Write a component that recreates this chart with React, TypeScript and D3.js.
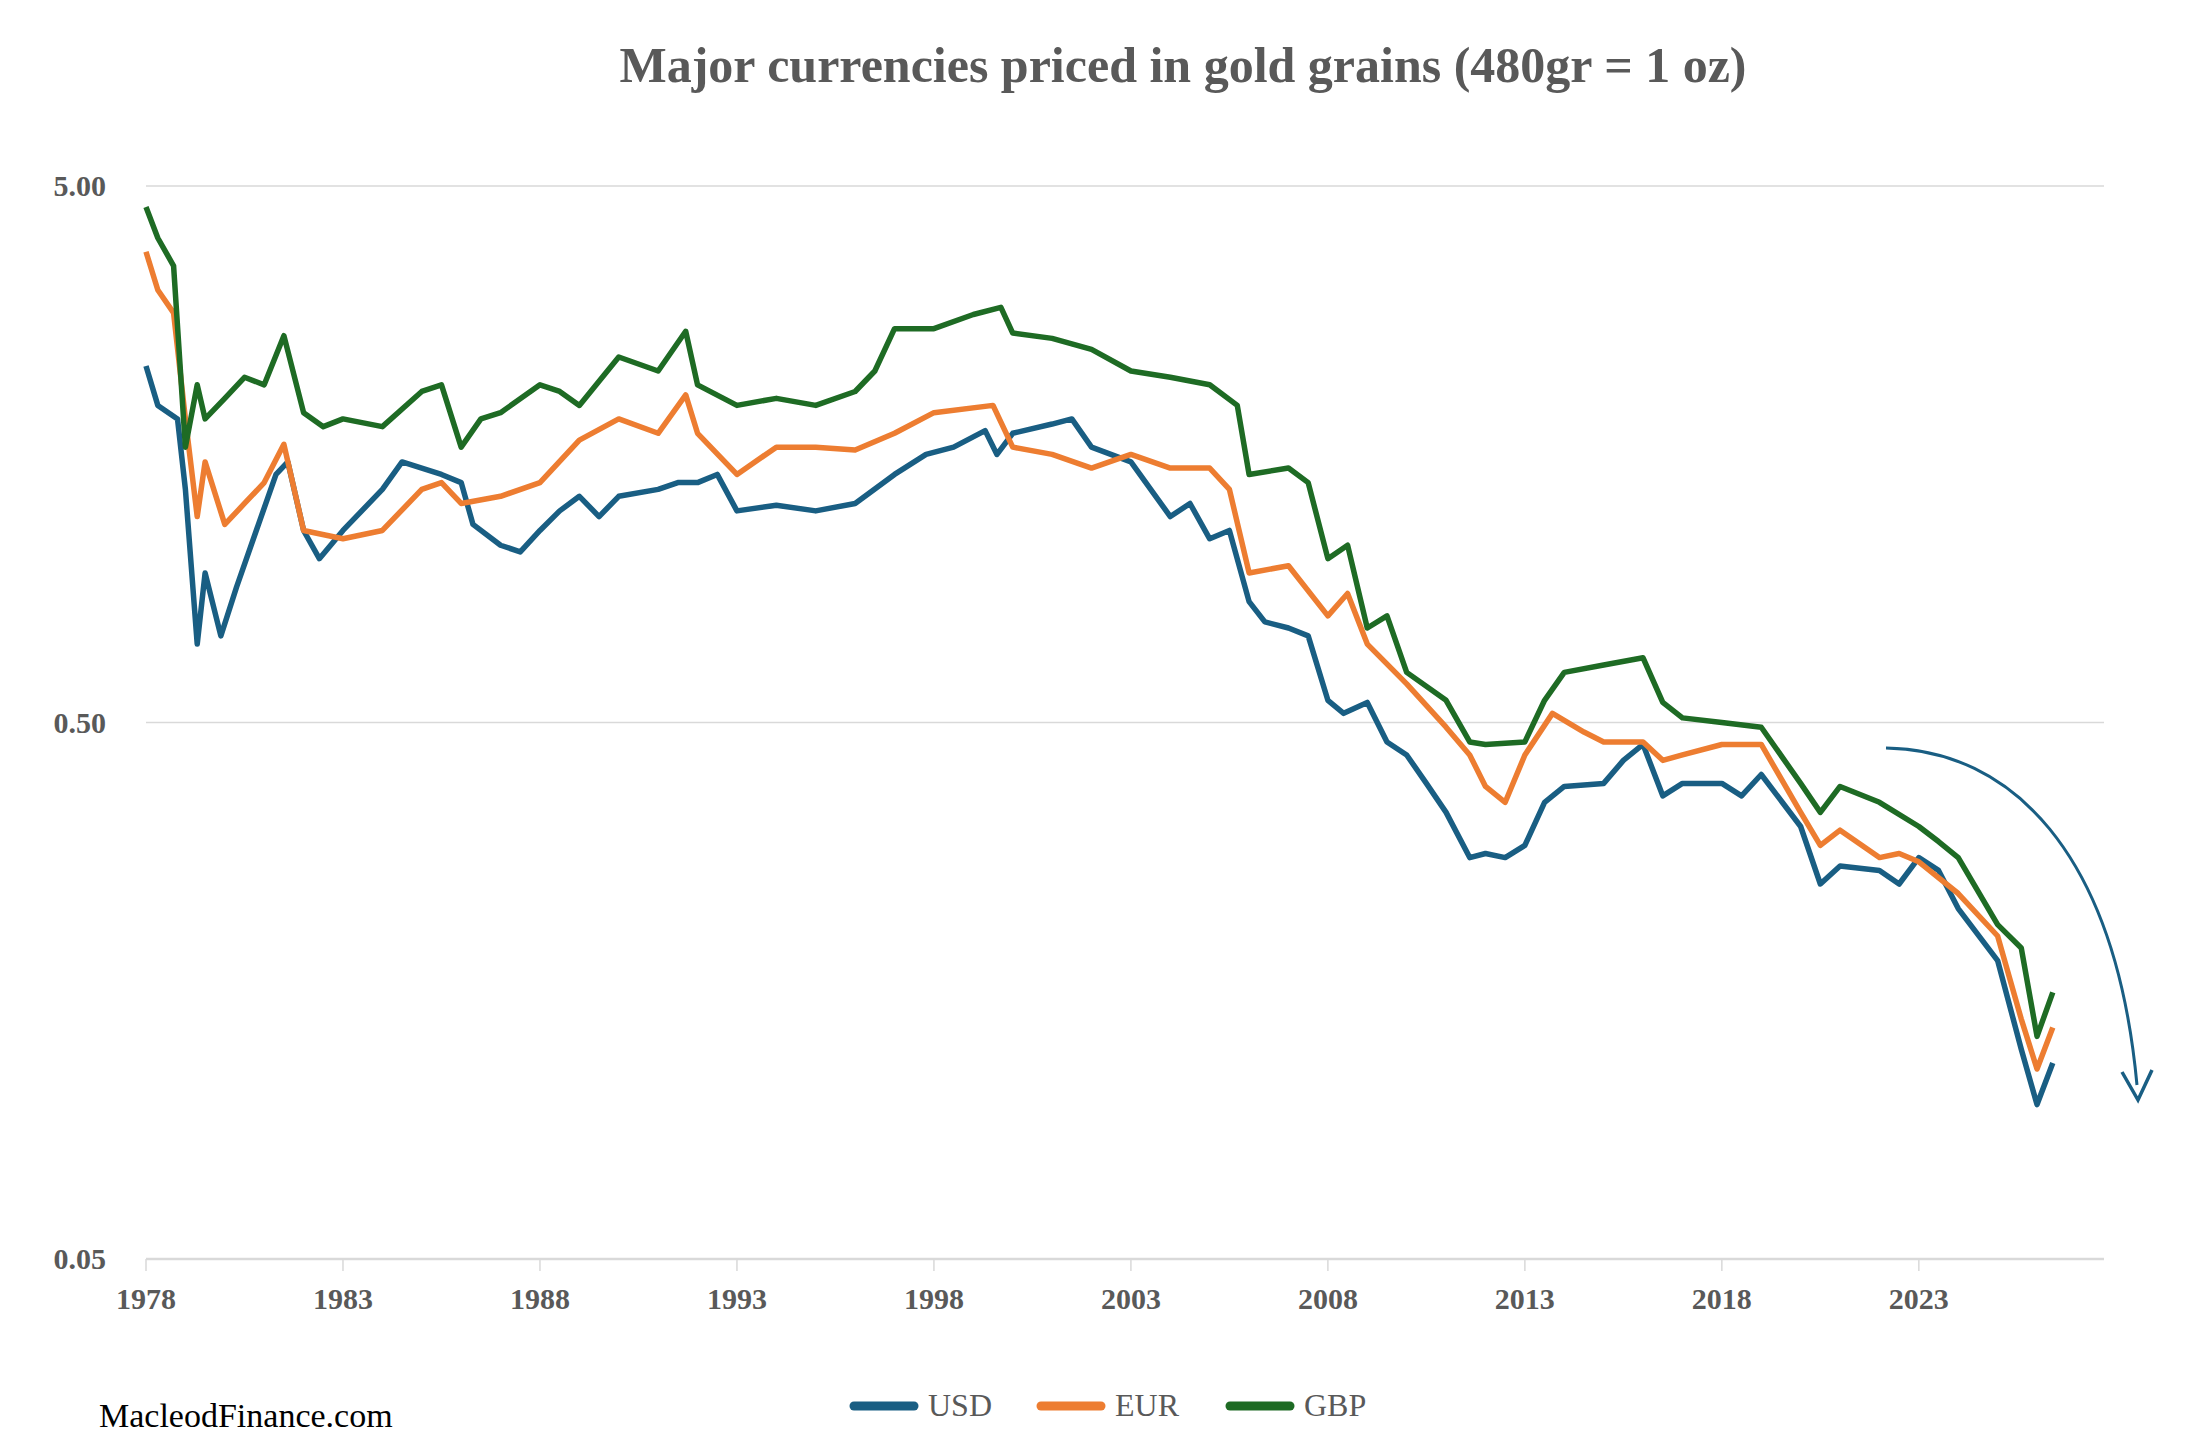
import React from 'react';
import * as d3 from 'd3';

// values (grains of gold per unit of currency)
const usdYears = [1978, 1978.3, 1978.8, 1979, 1979.3, 1979.5, 1979.9, 1980.3, 1980.8, 1981.3, 1981.6, 1982, 1982.4, 1983, 1984, 1984.5, 1985.5, 1986, 1986.3, 1987, 1987.5, 1988, 1988.5, 1989, 1989.5, 1990, 1991, 1991.5, 1992, 1992.5, 1993, 1994, 1995, 1996, 1997, 1997.8, 1998.5, 1999.3, 1999.6, 2000, 2001, 2001.5, 2002, 2003, 2004, 2004.5, 2005, 2005.5, 2006, 2006.4, 2007, 2007.5, 2008, 2008.4, 2009, 2009.5, 2010, 2010.5, 2011, 2011.6, 2012, 2012.5, 2013, 2013.5, 2014, 2015, 2015.5, 2016, 2016.5, 2017, 2018, 2018.5, 2019, 2020, 2020.5, 2021, 2022, 2022.5, 2023, 2023.5, 2024, 2025, 2025.6, 2026, 2026.4];
const usdValues = [2.31, 1.95, 1.84, 1.36, 0.7, 0.95, 0.725, 0.895, 1.14, 1.45, 1.53, 1.14, 1.01, 1.14, 1.36, 1.53, 1.45, 1.4, 1.17, 1.07, 1.04, 1.14, 1.24, 1.32, 1.21, 1.32, 1.36, 1.4, 1.4, 1.45, 1.24, 1.27, 1.24, 1.28, 1.45, 1.58, 1.63, 1.75, 1.58, 1.73, 1.8, 1.84, 1.63, 1.53, 1.21, 1.28, 1.1, 1.14, 0.84, 0.77, 0.75, 0.725, 0.55, 0.52, 0.545, 0.46, 0.435, 0.385, 0.34, 0.28, 0.285, 0.28, 0.295, 0.355, 0.38, 0.385, 0.425, 0.455, 0.365, 0.385, 0.385, 0.365, 0.4, 0.32, 0.25, 0.27, 0.265, 0.25, 0.28, 0.265, 0.225, 0.18, 0.123, 0.097, 0.116];

const eurYears = [1978, 1978.3, 1978.7, 1979, 1979.3, 1979.5, 1980, 1980.5, 1981, 1981.5, 1982, 1983, 1984, 1985, 1985.5, 1986, 1987, 1988, 1989, 1990, 1991, 1991.7, 1992, 1993, 1994, 1995, 1996, 1997, 1998, 1999.5, 2000, 2001, 2002, 2003, 2004, 2005, 2005.5, 2006, 2007, 2008, 2008.5, 2009, 2010, 2011, 2011.6, 2012, 2012.5, 2013, 2013.7, 2014.5, 2015, 2016, 2016.5, 2017, 2018, 2019, 2020, 2020.5, 2021, 2022, 2022.5, 2023, 2024, 2025, 2025.6, 2026, 2026.4];
const eurValues = [3.77, 3.2, 2.9, 1.84, 1.21, 1.53, 1.17, 1.28, 1.4, 1.65, 1.14, 1.1, 1.14, 1.36, 1.4, 1.28, 1.32, 1.4, 1.68, 1.84, 1.73, 2.04, 1.73, 1.45, 1.63, 1.63, 1.61, 1.73, 1.89, 1.95, 1.63, 1.58, 1.49, 1.58, 1.49, 1.49, 1.36, 0.95, 0.98, 0.79, 0.87, 0.7, 0.59, 0.49, 0.435, 0.38, 0.355, 0.435, 0.52, 0.48, 0.46, 0.46, 0.425, 0.435, 0.455, 0.455, 0.34, 0.295, 0.315, 0.28, 0.285, 0.275, 0.24, 0.2, 0.14, 0.113, 0.135];

const gbpYears = [1978, 1978.3, 1978.7, 1979, 1979.3, 1979.5, 1980, 1980.5, 1981, 1981.5, 1982, 1982.5, 1983, 1984, 1985, 1985.5, 1986, 1986.5, 1987, 1988, 1988.5, 1989, 1990, 1991, 1991.7, 1992, 1993, 1994, 1995, 1996, 1996.5, 1997, 1998, 1999, 1999.7, 2000, 2001, 2002, 2003, 2004, 2005, 2005.7, 2006, 2007, 2007.5, 2008, 2008.5, 2009, 2009.5, 2010, 2011, 2011.6, 2012, 2013, 2013.5, 2014, 2015, 2016, 2016.5, 2017, 2018, 2019, 2020, 2020.5, 2021, 2022, 2023, 2023.5, 2024, 2025, 2025.6, 2026, 2026.4];
const gbpValues = [4.57, 4.0, 3.55, 1.63, 2.13, 1.84, 2.01, 2.2, 2.13, 2.63, 1.89, 1.78, 1.84, 1.78, 2.07, 2.13, 1.63, 1.84, 1.89, 2.13, 2.07, 1.95, 2.4, 2.26, 2.68, 2.13, 1.95, 2.01, 1.95, 2.07, 2.26, 2.71, 2.71, 2.88, 2.97, 2.66, 2.6, 2.48, 2.26, 2.2, 2.13, 1.95, 1.45, 1.49, 1.4, 1.01, 1.07, 0.75, 0.79, 0.62, 0.55, 0.46, 0.455, 0.46, 0.55, 0.62, 0.64, 0.66, 0.545, 0.51, 0.5, 0.49, 0.385, 0.34, 0.38, 0.355, 0.32, 0.3, 0.28, 0.21, 0.19, 0.13, 0.157];

const yTicks = [5, 0.5, 0.05];
const xTicks = [1978, 1983, 1988, 1993, 1998, 2003, 2008, 2013, 2018, 2023];

const series = [
  { name: 'USD', color: '#195e83', years: usdYears, values: usdValues },
  { name: 'EUR', color: '#ed7d31', years: eurYears, values: eurValues },
  { name: 'GBP', color: '#1e6b24', years: gbpYears, values: gbpValues },
];

const W = 2192;
const H = 1456;
const left = 146;
const right = 2104;
const top = 186;
const bottom = 1259;
const font = '"Liberation Serif", "Times New Roman", serif';
const grey = '#595959';

const App = () => {
  const x = d3.scaleLinear().domain([1978, 2027.7]).range([left, right]);
  const y = d3.scaleLog().domain([0.05, 5]).range([bottom, top]);
  const line = d3
    .line<[number, number]>()
    .x((d) => x(d[0]))
    .y((d) => y(d[1]));

  const legendX = [854, 1041, 1230];

  return (
    <svg width={W} height={H} style={{ display: 'block', margin: -8 }}>
      <rect width={W} height={H} fill="#fff" />
      <text x={1183} y={82} textAnchor="middle" fontFamily={font} fontWeight="bold" fontSize={50} fill={grey}>
        Major currencies priced in gold grains (480gr = 1 oz)
      </text>

      {yTicks.map((t) => (
        <g key={t}>
          <line x1={left} x2={right} y1={y(t)} y2={y(t)} stroke="#d9d9d9" strokeWidth={t === 0.05 ? 2.5 : 1.5} />
          <text x={106} y={y(t) + 10} textAnchor="end" fontFamily={font} fontWeight="bold" fontSize={30} fill={grey}>
            {t.toFixed(2)}
          </text>
        </g>
      ))}

      {xTicks.map((t) => (
        <g key={t}>
          <line x1={x(t)} x2={x(t)} y1={bottom} y2={bottom + 12} stroke="#d9d9d9" strokeWidth={1.5} />
          <text x={x(t)} y={bottom + 50} textAnchor="middle" fontFamily={font} fontWeight="bold" fontSize={30} fill={grey}>
            {t}
          </text>
        </g>
      ))}

      {series.map((s) => (
        <path
          key={s.name}
          d={line(s.years.map((yr, i) => [yr, s.values[i]] as [number, number])) ?? ''}
          fill="none"
          stroke={s.color}
          strokeWidth={5.5}
          strokeLinejoin="round"
        />
      ))}

      <path d="M1886,748 C2010,750 2115,850 2137,1085" fill="none" stroke="#195e83" strokeWidth={3} />
      <path d="M2122,1072 L2138,1100 L2152,1070" fill="none" stroke="#195e83" strokeWidth={3.5} strokeLinejoin="miter" />

      {series.map((s, i) => (
        <g key={s.name}>
          <line x1={legendX[i]} x2={legendX[i] + 60} y1={1406} y2={1406} stroke={s.color} strokeWidth={9} strokeLinecap="round" />
          <text x={legendX[i] + 74} y={1416} fontFamily={font} fontSize={32} fill={grey}>
            {s.name}
          </text>
        </g>
      ))}

      <text x={99} y={1427} fontFamily={font} fontSize={34} fill="#000">
        MacleodFinance.com
      </text>
    </svg>
  );
};

export default App;
